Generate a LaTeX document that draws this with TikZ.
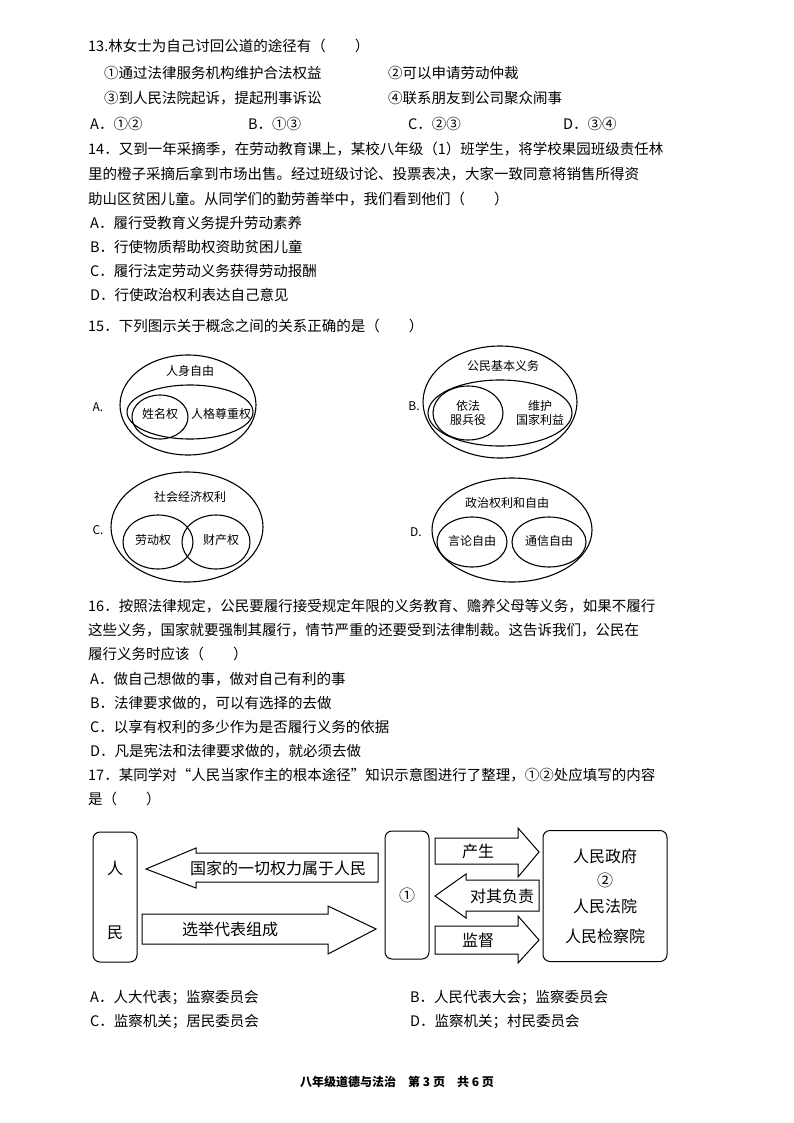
\documentclass[tikz,border=0pt]{standalone}
\usepackage{fontspec}
\setmainfont{Noto Sans CJK SC}
\usetikzlibrary{shapes.geometric}
\begin{document}
\begin{tikzpicture}[x=1pt,y=-1pt,
 t/.style={anchor=west,inner sep=0pt,font=\fontsize{14.5}{16}\selectfont},
 d/.style={inner sep=0pt,font=\fontsize{12}{14}\selectfont,align=center},
 g/.style={inner sep=0pt,font=\fontsize{16}{18}\selectfont},
 ell/.style={draw,line width=1.1pt},
 arr/.style={draw,line width=1pt,fill=white},
 box/.style={draw,line width=1pt,rounded corners=7pt}]
\useasboundingbox (0,0) rectangle (794,1123);
% Q13
\node[t] (q13) at (88,46) {13.林女士为自己讨回公道的途径有（\quad\quad ）};
\node[t] (q13a) at (104,73) {①通过法律服务机构维护合法权益};
\node[t] (q13b) at (388,73) {②可以申请劳动仲裁};
\node[t] (q13c) at (104,98) {③到人民法院起诉，提起刑事诉讼};
\node[t] (q13d) at (388,98) {④联系朋友到公司聚众闹事};
\node[t] (o13a) at (90,124) {A．①②};
\node[t] (o13b) at (248,124) {B．①③};
\node[t] (o13c) at (408,124) {C．②③};
\node[t] (o13d) at (563,124) {D．③④};
% Q14
\node[t] (q14a) at (88,149) {14．又到一年采摘季，在劳动教育课上，某校八年级（1）班学生，将学校果园班级责任林};
\node[t] (q14b) at (88,174) {里的橙子采摘后拿到市场出售。经过班级讨论、投票表决，大家一致同意将销售所得资};
\node[t] (q14c) at (88,199) {助山区贫困儿童。从同学们的勤劳善举中，我们看到他们（\quad\quad ）};
\node[t] (o14a) at (90,223) {A．履行受教育义务提升劳动素养};
\node[t] (o14b) at (90,247) {B．行使物质帮助权资助贫困儿童};
\node[t] (o14c) at (90,271) {C．履行法定劳动义务获得劳动报酬};
\node[t] (o14d) at (90,295) {D．行使政治权利表达自己意见};
% Q15
\node[t] (q15) at (88,326) {15．下列图示关于概念之间的关系正确的是（\quad\quad ）};
% A
\node[d] (la) at (98,407) {A.};
\draw[ell] (188,405) ellipse [x radius=68,y radius=50];
\draw[ell] (190,412) ellipse [x radius=63,y radius=27];
\draw[ell] (160,417) ellipse [x radius=28,y radius=22];
\node[d] (ta) at (190,371) {人身自由};
\node[d] (ta1) at (160,414) {姓名权};
\node[d] (ta2) at (221,414) {人格尊重权};
% B
\node[d] (lb) at (414,406) {B.};
\draw[ell] (500,402) ellipse [x radius=77,y radius=56];
\draw[ell] (500,413) ellipse [x radius=72,y radius=33];
\draw[ell] (468,413) ellipse [x radius=35,y radius=27];
\node[d] (tb) at (503,366) {公民基本义务};
\node[d] (tb1) at (468,413) {依法\\服兵役};
\node[d] (tb2) at (540,413) {维护\\国家利益};
% C
\node[d] (lc) at (98,530) {C.};
\draw[ell] (187,527) ellipse [x radius=76,y radius=55];
\draw[ell] (158,542) ellipse [x radius=35,y radius=27];
\draw[ell] (216,542) ellipse [x radius=34,y radius=27];
\node[d] (tc) at (190,497) {社会经济权利};
\node[d] (tc1) at (153,540) {劳动权};
\node[d] (tc2) at (221,540) {财产权};
% D
\node[d] (ld) at (416,532) {D.};
\draw[ell] (512,530) ellipse [x radius=80,y radius=52];
\draw[ell] (472,542) ellipse [x radius=35,y radius=25];
\draw[ell] (549,542) ellipse [x radius=37,y radius=25];
\node[d] (td) at (507,503) {政治权利和自由};
\node[d] (td1) at (472,541) {言论自由};
\node[d] (td2) at (549,541) {通信自由};
% Q16
\node[t] (q16a) at (88,606) {16．按照法律规定，公民要履行接受规定年限的义务教育、赡养父母等义务，如果不履行};
\node[t] (q16b) at (88,630) {这些义务，国家就要强制其履行，情节严重的还要受到法律制裁。这告诉我们，公民在};
\node[t] (q16c) at (88,654) {履行义务时应该（\quad\quad ）};
\node[t] (o16a) at (90,679) {A．做自己想做的事，做对自己有利的事};
\node[t] (o16b) at (90,703) {B．法律要求做的，可以有选择的去做};
\node[t] (o16c) at (90,727) {C．以享有权利的多少作为是否履行义务的依据};
\node[t] (o16d) at (90,751) {D．凡是宪法和法律要求做的，就必须去做};
% Q17
\node[t] (q17a) at (88,775) {17．某同学对“人民当家作主的根本途径”知识示意图进行了整理，①②处应填写的内容};
\node[t] (q17b) at (88,799) {是（\quad\quad ）};
% diagram
\node[box,minimum width=44,minimum height=130] (ppl) at (115,897) {};
\node[g] (ren) at (115,868) {人};
\node[g] (min) at (115,933) {民};
\node[box,minimum width=44,minimum height=128] (one) at (407,895) {};
\node[g] (onet) at (407,895) {①};
\node[box,minimum width=124,minimum height=131] (gov) at (605,896) {};
\node[g] (g1) at (605,856) {人民政府};
\node[g] (g2) at (605,880) {②};
\node[g] (g3) at (605,906) {人民法院};
\node[g] (g4) at (605,936) {人民检察院};
\draw[arr] (378,853) -- (196,853) -- (196,848) -- (146,869) -- (196,888) -- (196,882) -- (378,882) -- cycle;
\node[g] (a1) at (278,868) {国家的一切权力属于人民};
\draw[arr] (142,914) -- (328,914) -- (328,906) -- (376,929) -- (328,954) -- (328,944) -- (142,944) -- cycle;
\node[g] (a2) at (230,929) {选举代表组成};
\draw[arr] (435,838) -- (518,838) -- (518,828) -- (539,852) -- (518,877) -- (518,864) -- (435,864) -- cycle;
\node[g] (a3) at (478,851) {产生};
\draw[arr] (539,880) -- (466,880) -- (466,874) -- (435,896) -- (466,918) -- (466,911) -- (539,911) -- cycle;
\node[g] (a4) at (502,896) {对其负责};
\draw[arr] (435,926) -- (518,926) -- (518,916) -- (539,940) -- (518,963) -- (518,954) -- (435,954) -- cycle;
\node[g] (a5) at (478,940) {监督};
\node[t] (o17a) at (90,998) {A．人大代表；监察委员会};
\node[t] (o17b) at (410,998) {B．人民代表大会；监察委员会};
\node[t] (o17c) at (90,1022) {C．监察机关；居民委员会};
\node[t] (o17d) at (410,1022) {D．监察机关；村民委员会};
\node[d,font=\fontsize{12}{14}\selectfont\bfseries] (foot) at (397,1082) {八年级道德与法治\quad 第 3 页\quad 共 6 页};
\end{tikzpicture}
\end{document}
